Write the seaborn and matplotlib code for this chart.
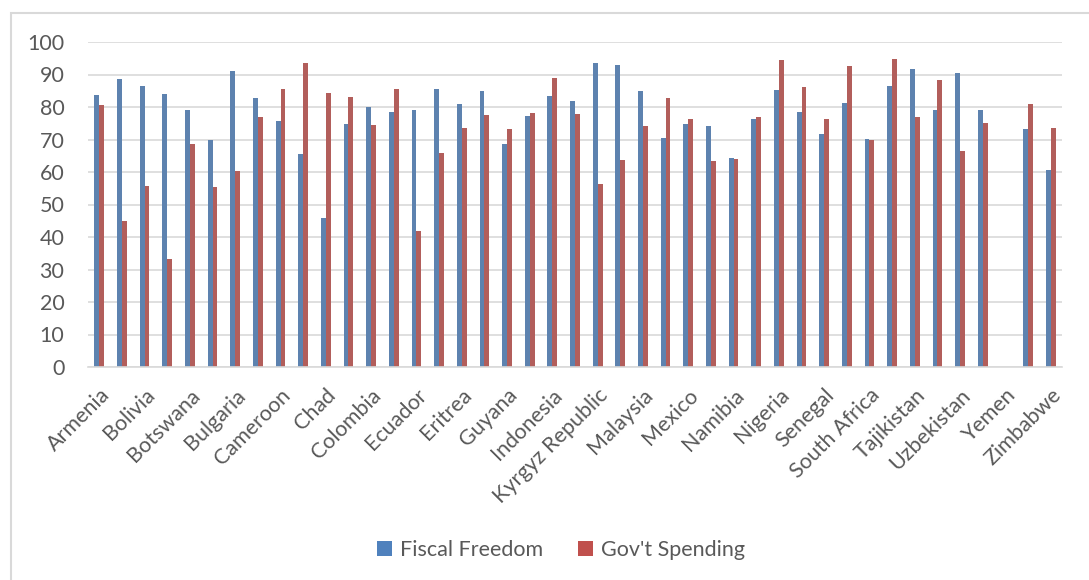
import numpy as np
import pandas as pd
import matplotlib
matplotlib.use("Agg")
import matplotlib.pyplot as plt
from matplotlib.patches import Rectangle, Patch
import seaborn as sns

# Economic freedom sub-indices by country (alphabetical); labels shown for every other country
countries = [
    "Armenia", "Bangladesh", "Bolivia", "Bosnia and Herzegovina", "Botswana",
    "Brazil", "Bulgaria", "Burkina Faso", "Cameroon", "Central African Republic",
    "Chad", "China", "Colombia", "Dominican Republic", "Ecuador",
    "El Salvador", "Eritrea", "Ghana", "Guyana", "India",
    "Indonesia", "Kenya", "Kyrgyz Republic", "Madagascar", "Malaysia",
    "Mali", "Mexico", "Mozambique", "Namibia", "Nicaragua",
    "Nigeria", "Pakistan", "Senegal", "Sierra Leone", "South Africa",
    "Sri Lanka", "Tajikistan", "Uganda", "Uzbekistan", "Vietnam",
    "Yemen", "Zambia", "Zimbabwe",
]

fiscal_freedom = [
    83.8, 88.5, 86.4, 83.9, 79.2, 69.7, 91.1, 82.8, 75.6, 65.6,
    45.9, 74.8, 80.1, 78.4, 79.2, 85.6, 80.9, 84.9, 68.6, 77.1,
    83.4, 81.7, 93.6, 92.9, 85.0, 70.4, 74.8, 74.3, 64.4, 76.3,
    85.1, 78.5, 71.6, 81.2, 70.2, 86.4, 91.6, 79.2, 90.5, 79.2,
    np.nan, 73.2, 60.7,
]

govt_spending = [
    80.7, 44.8, 55.6, 33.1, 68.5, 55.3, 60.3, 76.8, 85.6, 93.5,
    84.4, 83.2, 74.4, 85.4, 41.8, 65.9, 73.4, 77.6, 73.1, 78.1,
    89.0, 77.9, 56.3, 63.8, 74.3, 82.8, 76.4, 63.5, 63.9, 76.8,
    94.6, 86.2, 76.2, 92.6, 69.9, 94.8, 76.9, 88.4, 66.6, 75.0,
    np.nan, 81.0, 73.5,
]

series_names = ["Fiscal Freedom", "Gov't Spending"]
series_colors = ["#4F81BD", "#C0504D"]

df = pd.DataFrame({
    "country": countries * 2,
    "series": [series_names[0]] * len(countries) + [series_names[1]] * len(countries),
    "value": fiscal_freedom + govt_spending,
}).dropna()

sns.set_style("white")
plt.rcParams["font.family"] = ["Lato", "DejaVu Sans"]

W, H = 1089, 580
FS = 15.5
TEXT = "#595959"
fig = plt.figure(figsize=(W / 100, H / 100), dpi=100)
ax = fig.add_axes([88 / W, 1 - 367 / H, (1062 - 88) / W, (367 - 42) / H])

sns.barplot(
    data=df, x="country", y="value", hue="series",
    order=countries, hue_order=series_names,
    palette=series_colors, width=0.43, gap=0,
    linewidth=0, legend=False, ax=ax,
)

ax.set_xlim(-0.5, len(countries) - 0.5)
ax.set_ylim(0, 100)
ax.set_yticks(np.arange(0, 101, 10))
ax.yaxis.grid(True, color="#D9D9D9", linewidth=1.2)
ax.set_axisbelow(True)
for side in ["top", "right", "left"]:
    ax.spines[side].set_visible(False)
ax.spines["bottom"].set_color("#D9D9D9")
ax.spines["bottom"].set_linewidth(1.2)

shown = list(range(0, len(countries), 2))
ax.set_xticks(shown)
ax.set_xticklabels([countries[i] for i in shown], rotation=45, ha="right",
                   rotation_mode="anchor")
ax.tick_params(axis="x", length=0, pad=13, labelsize=FS, labelcolor=TEXT)
ax.tick_params(axis="y", length=0, pad=17, labelsize=FS, labelcolor=TEXT)
ax.set_xlabel("")
ax.set_ylabel("")

handles = [Patch(facecolor=c, edgecolor="none") for c in series_colors]
fig.legend(handles, series_names, loc="center", bbox_to_anchor=(561 / W, 1 - 550 / H),
           ncol=2, frameon=False, fontsize=FS, handlelength=0.7, handleheight=0.7,
           handletextpad=0.4, columnspacing=1.6, labelcolor=TEXT)

# Chart-area border
fig.patches.append(Rectangle((11 / W, -0.05), 1.1, 1 - 13 / H + 0.05,
                             transform=fig.transFigure, fill=False,
                             edgecolor="#D9D9D9", linewidth=1.5))

fig.savefig("out.png", dpi=100, facecolor="white")
